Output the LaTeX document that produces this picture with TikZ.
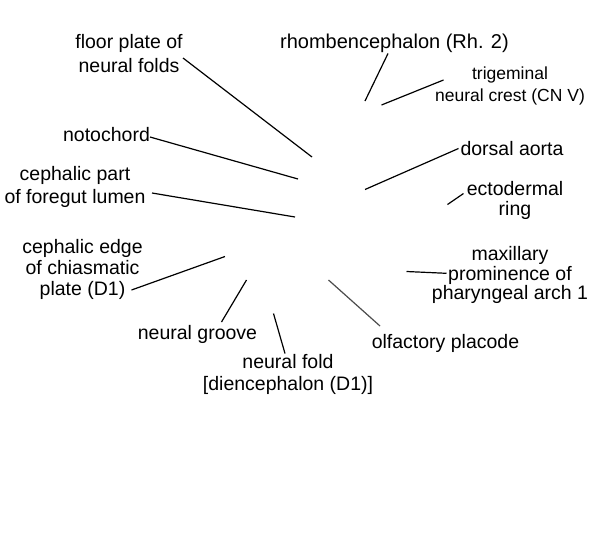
\documentclass[tikz,border=0pt]{standalone}
\usepackage{fontspec}
\setmainfont{Liberation Sans}
\begin{document}
\begin{tikzpicture}[x=1pt,y=-1pt,
  lbl/.style={align=center,inner sep=0pt,font=\fontsize{19.5}{23.5}\selectfont},
  lead/.style={line width=1.2pt,black}]
\useasboundingbox (0,0) rectangle (600,550);
\fill[white] (0,0) rectangle (600,550);
% labels
\node[lbl,font=\fontsize{19.5}{24.5}\selectfont] (floor) at (129,53.4) {floor plate of\\neural folds};
\node[lbl] (noto) at (106.5,135) {notochord};
\node[lbl,font=\fontsize{19.5}{23}\selectfont] (ceph) at (75,186.7) {cephalic part\\of foregut lumen};
\node[lbl,font=\fontsize{20}{24}\selectfont] (rhomb) at (394.5,43.3) {rhombencephalon (Rh. 2)};
\node[lbl,font=\fontsize{17.5}{22}\selectfont] (trig) at (510,85.8) {trigeminal\\neural crest (CN V)};
\node[lbl] (dors) at (512,148.3) {dorsal aorta};
\node[lbl,font=\fontsize{19.5}{20}\selectfont] (ecto) at (515,200.5) {ectodermal\\ring};
\node[lbl,font=\fontsize{19.5}{21}\selectfont] (chias) at (82.5,269.3) {cephalic edge\\of chiasmatic\\plate (D1)};
\node[lbl] (groove) at (197.5,334) {neural groove};
\node[lbl,font=\fontsize{19.5}{22}\selectfont] (fold) at (288,374) {neural fold\\{[diencephalon (D1)]}};
\node[lbl,font=\fontsize{19.5}{17}\selectfont] (maxi) at (510,275) {maxillary\\prominence of\\pharyngeal arch 1};
\node[lbl] (olf) at (445.5,343) {olfactory placode};
% leader end points
\coordinate (floorA) at (183,58);   \coordinate (floorB) at (312,157);
\coordinate (notoA) at (150,137);   \coordinate (notoB) at (298,179);
\coordinate (cephA) at (152,193);   \coordinate (cephB) at (295,217);
\coordinate (rhombA) at (388,53.5); \coordinate (rhombB) at (365,101);
\coordinate (trigA) at (443.5,80);  \coordinate (trigB) at (381.5,105);
\coordinate (dorsA) at (458.5,148.5); \coordinate (dorsB) at (365,189.5);
\coordinate (ectoA) at (463.5,193.5); \coordinate (ectoB) at (447.5,204.5);
\coordinate (chiasA) at (131.5,290); \coordinate (chiasB) at (225,256.5);
\coordinate (grooveA) at (221.5,322); \coordinate (grooveB) at (246.5,280);
\coordinate (foldA) at (285,353.5); \coordinate (foldB) at (273.5,313.5);
\coordinate (maxiA) at (446.5,273.3); \coordinate (maxiB) at (406.5,271.5);
\coordinate (olfA) at (380,326); \coordinate (olfB) at (328.5,280);
% leaders
\draw[lead] (floorA) -- (floorB);
\draw[lead] (notoA) -- (notoB);
\draw[lead] (cephA) -- (cephB);
\draw[lead] (rhombA) -- (rhombB);
\draw[lead] (trigA) -- (trigB);
\draw[lead] (dorsA) -- (dorsB);
\draw[lead] (ectoA) -- (ectoB);
\draw[lead] (chiasA) -- (chiasB);
\draw[lead] (grooveA) -- (grooveB);
\draw[lead] (foldA) -- (foldB);
\draw[lead] (maxiA) -- (maxiB);
\draw[lead,black!70] (olfA) -- (olfB);
\end{tikzpicture}
\end{document}
